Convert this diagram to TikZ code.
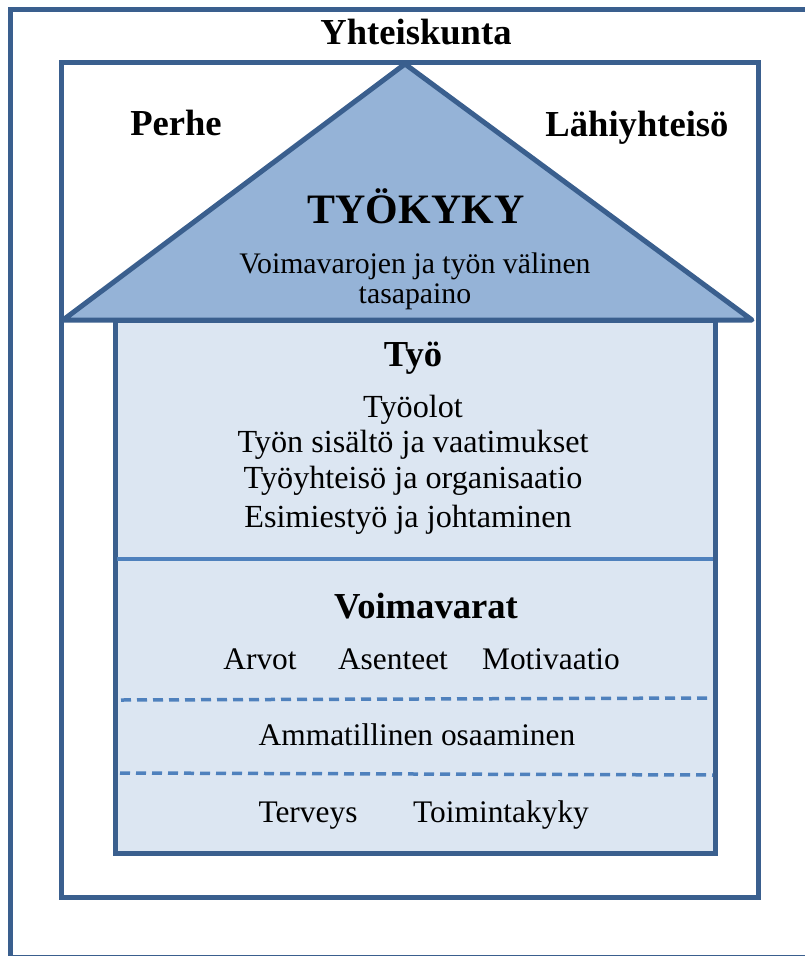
\documentclass[tikz,border=0pt]{standalone}
\usepackage{fontspec}
\setmainfont{Liberation Serif}
\usetikzlibrary{positioning}
\definecolor{hsframe}{HTML}{3A5F8E}
\definecolor{hsroof}{HTML}{95B3D7}
\definecolor{hsbody}{HTML}{DCE6F2}
\definecolor{hsline}{HTML}{4F81BD}

\begin{document}
\begin{tikzpicture}[x=1pt, y=-1pt, every node/.style={anchor=base, inner sep=0pt, font=\fontsize{31.4}{36}\selectfont},
    heading/.style={font=\bfseries\fontsize{36.6}{42}\selectfont},
    worktext/.style={font=\fontsize{32.2}{36}\selectfont}]
  \useasboundingbox (0,0) rectangle (805,956);
  % frames: society and the inner ring
  \draw[hsframe, line width=5pt] (10,9) rectangle (816,957);
  \draw[hsframe, line width=5pt] (61,62) rectangle (758,897);
  % house body and roof
  \draw[hsframe, fill=hsbody, line width=5pt] (115,320) rectangle (715,853);
  \draw[hsframe, fill=hsroof, line width=5pt, line join=round] (63,320) -- (405,64) -- (752,320) -- cycle;
  \draw[hsline, line width=3.5pt] (117,559) -- (713,559);
  \draw[hsline, line width=3.5pt, dash pattern=on 10pt off 6pt] (121,700) -- (710,698);
  \draw[hsline, line width=3.5pt, dash pattern=on 10pt off 6pt] (120,773) -- (713,775);

  \node[heading] (society) at (416,44) {Yhteiskunta};
  \node[heading] (family) at (176,135) {Perhe};
  \node[heading] (community) at (637,136) {Lähiyhteisö};

  \node[font=\bfseries\fontsize{41.9}{48}\selectfont] (workability) at (416,223) {TYÖKYKY};
  \node[font=\fontsize{29.8}{34}\selectfont] (balance1) at (415,273) {Voimavarojen ja työn välinen};
  \node[font=\fontsize{29.8}{34}\selectfont] (balance2) at (415,303) {tasapaino};

  \node[heading] (work) at (413,366) {Työ};
  \node[worktext] (work1) at (413,417) {Työolot};
  \node[worktext] (work2) at (413,452) {Työn sisältö ja vaatimukset};
  \node[worktext] (work3) at (413,488) {Työyhteisö ja organisaatio};
  \node[worktext] (work4) at (408,527) {Esimiestyö ja johtaminen};

  \node[heading] (resources) at (426,618) {Voimavarat};
  \node (values) at (260,669) {Arvot};
  \node (attitudes) at (393,669) {Asenteet};
  \node (motivation) at (551,669) {Motivaatio};
  \node (skills) at (417,745) {Ammatillinen osaaminen};
  \node (health) at (308,822) {Terveys};
  \node (function) at (501,822) {Toimintakyky};
\end{tikzpicture}
\end{document}
